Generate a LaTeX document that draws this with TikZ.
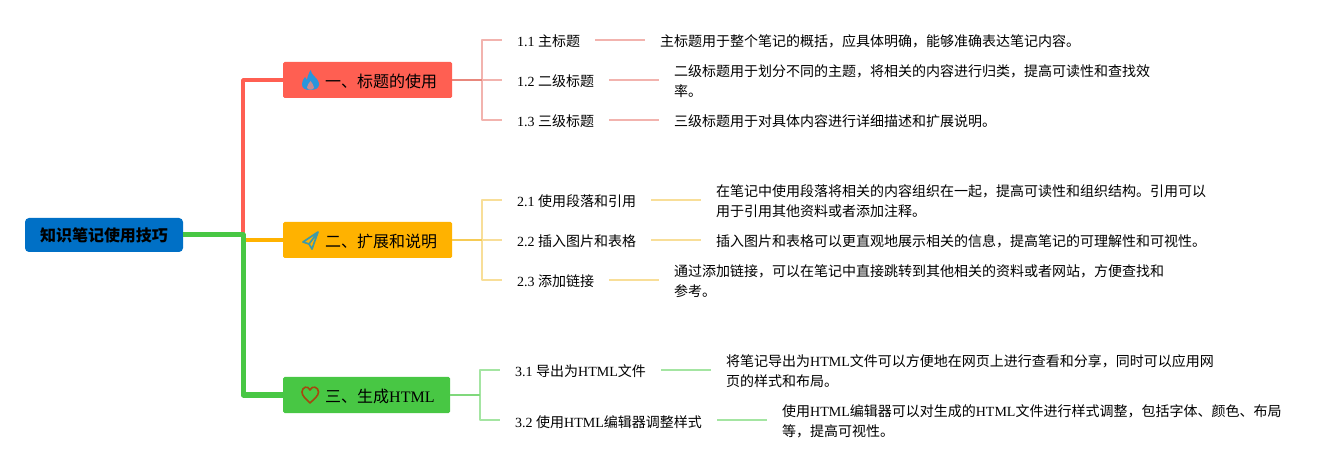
\documentclass[tikz,border=0pt]{standalone}
\usepackage{fontspec}
\setmainfont{Liberation Serif}
\newfontfamily\cjk{Noto Sans CJK SC}
\newcommand{\zh}[1]{{\cjk #1}}
\definecolor{rootc}{HTML}{0070C6}
\definecolor{redc}{HTML}{FF5F52}
\definecolor{orac}{HTML}{FFB200}
\definecolor{grnc}{HTML}{48C744}
\definecolor{redl}{HTML}{F2B3AE}
\definecolor{oral}{HTML}{F8DE98}
\definecolor{grnl}{HTML}{A4E5A2}
\definecolor{redm}{HTML}{E8877C}
\definecolor{oram}{HTML}{F6CB55}
\definecolor{grnm}{HTML}{80D87C}
\definecolor{flamec}{HTML}{2A95DC}
\definecolor{flamei}{HTML}{C98A90}
\definecolor{planec}{HTML}{3E9AA8}
\definecolor{heartc}{HTML}{A5480F}
\tikzset{
  rootbox/.style={fill=rootc,rounded corners=4pt,minimum width=158pt,minimum height=34pt,inner sep=0pt,font=\fontsize{16pt}{19pt}\selectfont\cjk\bfseries,text=black},
  branchbox/.style={anchor=west,rounded corners=1.5pt,minimum width=169pt,minimum height=36pt,inner sep=0pt,font=\fontsize{16pt}{19pt}\selectfont,text=black},
  lab/.style={anchor=west,inner xsep=15pt,inner ysep=0pt,text height=15pt,text depth=1pt,font=\fontsize{14pt}{19pt}\selectfont,text=black},
  desc/.style={anchor=west,inner xsep=15pt,inner ysep=0pt,align=left,font=\fontsize{14pt}{20pt}\selectfont,text=black},
  conn/.style={line width=2.2pt,line join=round}
}
\begin{document}
\begin{tikzpicture}[x=1pt,y=-1pt]
\useasboundingbox (0,0) rectangle (1342,470);
% main nodes
\node[rootbox] (root) at (104,235) {知识笔记使用技巧};
\node[branchbox,fill=redc] (b1) at (283,80) {};
\node[branchbox,fill=orac] (b2) at (283,240) {};
\node[branchbox,fill=grnc,minimum width=167pt] (b3) at (283,395) {};
\node[anchor=west,inner sep=0pt,font=\fontsize{16pt}{19pt}\selectfont] (t1) at (325,81) {\zh{一、标题的使用}};
\node[anchor=west,inner sep=0pt,font=\fontsize{16pt}{19pt}\selectfont] (t2) at (325,241) {\zh{二、扩展和说明}};
\node[anchor=west,inner sep=0pt,font=\fontsize{16pt}{19pt}\selectfont] (t3) at (325,396) {\zh{三、生成}HTML};
% icons
\fill[flamec] (310.500,70) .. controls (311,73) and (313,75) .. (315,77) .. controls (318,80) and (319.500,83) .. (319,85) .. controls (318.500,88.500) and (315,90) .. (310,90) .. controls (305,90) and (302,88.500) .. (302,84) .. controls (302,81) and (303.500,79) .. (305,77) .. controls (306,78) and (306.500,79) .. (307,80) .. controls (307.500,76) and (309,73) .. (310.500,70) -- cycle;
\fill[flamei] (310.500,81) .. controls (312,83) and (314,85.500) .. (314,87.500) .. controls (314,90.500) and (307,90.500) .. (307,87.500) .. controls (307,85.500) and (309,83) .. (310.500,81) -- cycle;
\draw[planec,line width=1.7pt,line join=round] (318,232) -- (303,242) -- (309,244) -- (312,249) -- (318,232) -- (309,244);
\draw[heartc,line width=1.6pt,line join=round] (310,403) .. controls (306,399) and (302,396) .. (302,392) .. controls (302,387) and (308,385) .. (310,390) .. controls (312,385) and (318.500,387) .. (318.500,392) .. controls (318.500,396) and (314,399) .. (310,403) -- cycle;
% level 2 nodes
\node[lab] (l11) at (502,40) {1.1 \zh{主标题}};
\node[lab] (l12) at (502,80) {1.2 \zh{二级标题}};
\node[lab] (l13) at (502,120) {1.3 \zh{三级标题}};
\node[lab] (l21) at (502,200) {2.1 \zh{使用段落和引用}};
\node[lab] (l22) at (502,240) {2.2 \zh{插入图片和表格}};
\node[lab] (l23) at (502,280) {2.3 \zh{添加链接}};
\node[lab] (l31) at (500,370) {3.1 \zh{导出为}HTML\zh{文件}};
\node[lab] (l32) at (500,420) {3.2 \zh{使用}HTML\zh{编辑器调整样式}};
% descriptions
\node[desc] (d11) at (645,41) {\zh{主标题用于整个笔记的概括，应具体明确，能够准确表达笔记内容。}};
\node[desc] (d12) at (659,81) {\zh{二级标题用于划分不同的主题，将相关的内容进行归类，提高可读性和查找效}\\\zh{率。}};
\node[desc] (d13) at (659,121) {\zh{三级标题用于对具体内容进行详细描述和扩展说明。}};
\node[desc] (d21) at (701,201) {\zh{在笔记中使用段落将相关的内容组织在一起，提高可读性和组织结构。引用可以}\\\zh{用于引用其他资料或者添加注释。}};
\node[desc] (d22) at (701,241) {\zh{插入图片和表格可以更直观地展示相关的信息，提高笔记的可理解性和可视性。}};
\node[desc] (d23) at (659,281) {\zh{通过添加链接，可以在笔记中直接跳转到其他相关的资料或者网站，方便查找和}\\\zh{参考。}};
\node[desc] (d31) at (711,371) {\zh{将笔记导出为}HTML\zh{文件可以方便地在网页上进行查看和分享，同时可以应用网}\\\zh{页的样式和布局。}};
\node[desc] (d32) at (767,421) {\zh{使用}HTML\zh{编辑器可以对生成的}HTML\zh{文件进行样式调整，包括字体、颜色、布局}\\\zh{等，提高可视性。}};
% junctions
\coordinate (sp) at (243,235);
\coordinate (j1) at (482,80);
\coordinate (j2) at (482,240);
\coordinate (j3) at (480,395);
% main connectors
\draw[redc,line width=3.5pt,line join=round] (sp) |- (b1.west);
\draw[orac,line width=3.5pt] (sp |- b2.west) -- (b2.west);
\draw[grnc,line width=5pt,line join=round] (root.east) -- (sp) |- (b3.west);
% sub connectors
\draw[conn,redl] (j1) |- (l11.west);
\draw[conn,redl] (j1) -- (l12.west);
\draw[conn,redl] (j1) |- (l13.west);
\draw[conn,redm] (b1.east) -- (j1);
\draw[conn,oral] (j2) |- (l21.west);
\draw[conn,oral] (j2) -- (l22.west);
\draw[conn,oral] (j2) |- (l23.west);
\draw[conn,oram] (b2.east) -- (j2);
\draw[conn,grnl] (j3) |- (l31.west);
\draw[conn,grnl] (j3) |- (l32.west);
\draw[conn,grnm] (b3.east) -- (j3);
% label to description
\draw[conn,redl] (l11.east) -- (l11.east -| d11.west);
\draw[conn,redl] (l12.east) -- (l12.east -| d12.west);
\draw[conn,redl] (l13.east) -- (l13.east -| d13.west);
\draw[conn,oral] (l21.east) -- (l21.east -| d21.west);
\draw[conn,oral] (l22.east) -- (l22.east -| d22.west);
\draw[conn,oral] (l23.east) -- (l23.east -| d23.west);
\draw[conn,grnl] (l31.east) -- (l31.east -| d31.west);
\draw[conn,grnl] (l32.east) -- (l32.east -| d32.west);
\end{tikzpicture}
\end{document}
